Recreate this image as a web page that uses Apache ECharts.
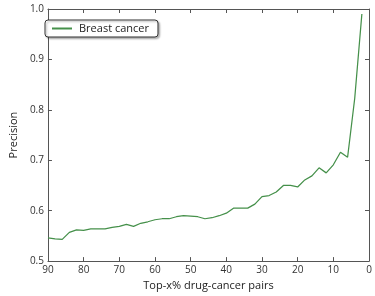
<!DOCTYPE html>
<html>
<head>
<meta charset="utf-8">
<script src="https://cdn.jsdelivr.net/npm/echarts@6/dist/echarts.min.js"></script>
<style>html,body{margin:0;padding:0;background:#fff}#c{width:375px;height:296px}</style>
</head>
<body>
<div id="c"></div>
<script>
const topX = [90,88,86,84,82,80,78,76,74,72,70,68,66,64,62,60,58,56,54,52,50,48,46,44,42,40,38,36,34,32,30,28,26,24,22,20,18,16,14,12,10,8,6,4,2];
const precision = [0.546,0.544,0.543,0.557,0.562,0.561,0.564,0.564,0.564,0.567,0.569,0.573,0.569,0.575,0.578,0.582,0.584,0.584,0.588,0.590,0.589,0.588,0.584,0.586,0.590,0.595,0.605,0.605,0.605,0.613,0.628,0.630,0.637,0.650,0.650,0.647,0.661,0.669,0.685,0.675,0.691,0.716,0.706,0.823,0.990];
const xTicks = [0,10,20,30,40,50,60,70,80,90];
const yTicks = [0.5,0.6,0.7,0.8,0.9,1.0];
const seriesName = 'Breast cancer';

const font = 'Open Sans';
const axisColor = '#555';
const lineColor = '#45904a';
const chart = echarts.init(document.getElementById('c'), null, {renderer: 'canvas'});
const baseX = {
  type: 'value', min: 0, max: 90, interval: 10, inverse: true,
  axisLine: {show: true, onZero: false, lineStyle: {color: axisColor, width: 1}},
  axisTick: {show: true, inside: true, length: 4, lineStyle: {color: axisColor}},
  splitLine: {show: false}
};
const baseY = {
  type: 'value', min: 0.5, max: 1.0, interval: 0.1,
  axisLine: {show: true, onZero: false, lineStyle: {color: axisColor, width: 1}},
  axisTick: {show: true, inside: true, length: 4, lineStyle: {color: axisColor}},
  splitLine: {show: false}
};
chart.setOption({
  animation: false,
  textStyle: {fontFamily: font},
  grid: {left: 33, right: 6, top: 9, bottom: 30, containLabel: false},
  legend: {
    data: [{name: seriesName}],
    left: 45, top: 20,
    padding: [3, 9, 3, 7],
    itemWidth: 20, itemHeight: 2, icon: 'rect', itemGap: 8,
    textStyle: {fontFamily: font, fontSize: 11, color: '#222', padding: [0,0,0,2]},
    borderColor: '#333', borderWidth: 1, borderRadius: 3,
    backgroundColor: '#fff',
    shadowColor: 'rgba(0,0,0,0.3)', shadowBlur: 2, shadowOffsetX: 1.5, shadowOffsetY: 1.5
  },
  xAxis: [
    Object.assign({}, baseX, {
      position: 'bottom',
      name: 'Top-x% drug-cancer pairs', nameLocation: 'middle', nameGap: 18,
      nameTextStyle: {fontFamily: font, fontSize: 11, color: '#222'},
      axisLabel: {show: true, margin: 4, fontFamily: font, fontSize: 10, color: '#333',
        formatter: v => xTicks.includes(v) ? String(v) : ''}
    }),
    Object.assign({}, baseX, {position: 'top', axisLabel: {show: false}})
  ],
  yAxis: [
    Object.assign({}, baseY, {
      position: 'left',
      name: 'Precision', nameLocation: 'middle', nameGap: 26,
      nameTextStyle: {fontFamily: font, fontSize: 11, color: '#222'},
      axisLabel: {show: true, margin: 4, fontFamily: font, fontSize: 10, color: '#333',
        formatter: v => yTicks.some(t => Math.abs(t - v) < 1e-9) ? v.toFixed(1) : ''}
    }),
    Object.assign({}, baseY, {position: 'right', axisLabel: {show: false}})
  ],
  series: [{
    name: seriesName, type: 'line', xAxisIndex: 0, yAxisIndex: 0,
    data: topX.map((x, i) => [x, precision[i]]),
    symbol: 'none', smooth: false,
    lineStyle: {color: lineColor, width: 1.25},
    itemStyle: {color: lineColor}
  }]
});
</script>
</body>
</html>
